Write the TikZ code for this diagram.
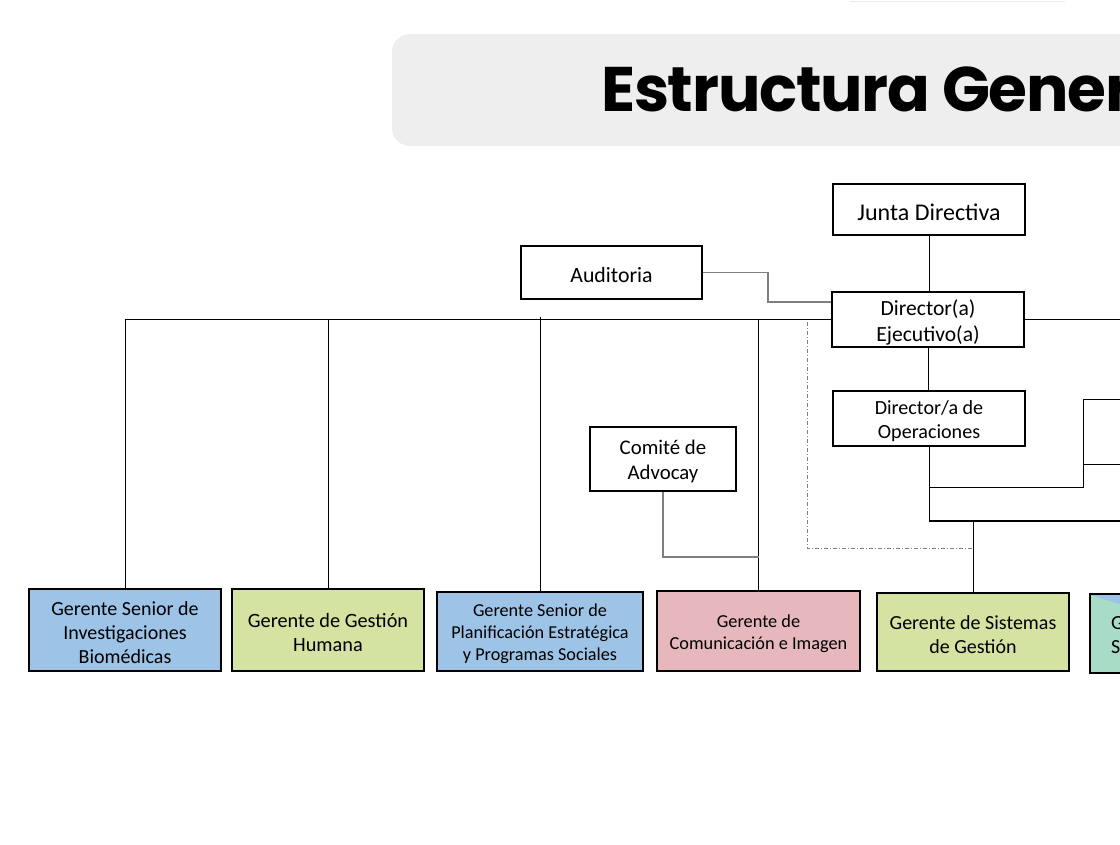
\documentclass[tikz,border=0pt]{standalone}
\usepackage{fontspec}
\setmainfont{Carlito}
\newfontfamily\titlefont{Poppins}[LetterSpace=-2]
\definecolor{titlegray}{HTML}{EEEEEE}
\definecolor{bblue}{HTML}{9DC3E6}
\definecolor{bgreen}{HTML}{D4E2A2}
\definecolor{bpink}{HTML}{E6B8BE}
\definecolor{bteal}{HTML}{A8DCC6}
\definecolor{cgray}{HTML}{7F7F7F}
\begin{document}
\begin{tikzpicture}[x=1pt,y=-1pt,
  box/.style={draw=black, line width=2pt, inner sep=0pt},
  txt/.style={align=center, inner sep=0pt, yshift=-2.5pt},
  conn/.style={line width=1pt, black},
  gconn/.style={line width=1.2pt, cgray}]
\useasboundingbox (0,0) rectangle (1120,845);
\clip (0,0) rectangle (1120,845);
% faint line at top
\draw[black!8, line width=1.2pt] (850,1.5) -- (1065,1.5);
% title banner
\fill[titlegray, rounded corners=18pt] (392,34) rectangle (1180,146);
\node[anchor=base west, inner sep=0pt, font=\titlefont\bfseries\fontsize{63}{80}\selectfont] (title) at (601,112) {Estructura General};
% upper boxes
\node[box, minimum width=192pt, minimum height=51pt] (junta) at (929,209.5) {};
\node[txt, font=\fontsize{24}{28}\selectfont] (junta-t) at (junta.center) {Junta Directiva};
\node[box, minimum width=181pt, minimum height=53pt] (aud) at (611.5,272.5) {};
\node[txt, font=\fontsize{21.8}{26}\selectfont] (aud-t) at (aud.center) {Auditoria};
\node[box, minimum width=192pt, minimum height=55pt] (dir) at (928,319.5) {};
\node[txt, font=\fontsize{21.6}{26}\selectfont] (dir-t) at (dir.center) {Director(a)\\Ejecutivo(a)};
\node[box, minimum width=192pt, minimum height=55pt] (ops) at (929,418.5) {};
\node[txt, font=\fontsize{20.1}{24}\selectfont] (ops-t) at (ops.center) {Director/a de\\Operaciones};
\node[box, minimum width=146pt, minimum height=64pt] (com) at (663,459) {};
\node[txt, font=\fontsize{20.8}{25}\selectfont] (com-t) at (com.center) {Comité de\\Advocay};
% bottom boxes
\node[box, fill=bblue, minimum width=192pt, minimum height=82pt] (b1) at (125,630) {};
\node[txt, font=\fontsize{20}{24}\selectfont] (b1-t) at (b1.center) {Gerente Senior de\\Investigaciones\\Biomédicas};
\node[box, fill=bgreen, minimum width=192pt, minimum height=82pt] (b2) at (328,630) {};
\node[txt, font=\fontsize{20.3}{24}\selectfont] (b2-t) at (b2.center) {Gerente de Gestión\\Humana};
\node[box, fill=bblue, minimum width=206pt, minimum height=79pt] (b3) at (540,631.5) {};
\node[txt, font=\fontsize{18.2}{22}\selectfont] (b3-t) at (b3.center) {Gerente Senior de\\Planificación Estratégica\\y Programas Sociales};
\node[box, fill=bpink, minimum width=203pt, minimum height=80pt] (b4) at (758.5,631) {};
\node[txt, font=\fontsize{18.3}{22}\selectfont] (b4-t) at (b4.center) {Gerente de\\Comunicación e Imagen};
\node[box, fill=bgreen, minimum width=192pt, minimum height=78pt] (b5) at (973,632) {};
\node[txt, font=\fontsize{20}{24}\selectfont] (b5-t) at (b5.center) {Gerente de Sistemas\\de Gestión};
\node[fill=bteal, draw=none, inner sep=0pt, minimum width=192pt, minimum height=79pt, anchor=west] (b6) at (1090,633.5) {};
\fill[bblue] (1091,595) -- (1125,595) -- (1125,606) -- cycle;
\draw[line width=2pt] (b6.south west) rectangle (b6.north east);
\node[anchor=west, align=left, inner sep=0pt, yshift=-2pt, font=\fontsize{20}{24}\selectfont] (b6-t) at (1111,633.5) {G\\S};
% connectors
\draw[conn] (junta.south) -- (junta.south |- dir.north);
\draw[gconn] (aud.east) -- (768,272.5) |- ([yshift=17.5pt]dir.west);
\draw[conn] (dir.west) -| (b1.north);
\draw[conn] (b2.north) -- (b2.north |- dir.west);
\draw[conn] (b3.north) -- ([yshift=2pt]b3.north |- dir.west);
\draw[conn] (b4.north) -- (b4.north |- dir.west);
\draw[gconn] (com.south) |- (b4.north |- 0,557);
\draw[gconn, line width=1pt, dash pattern=on 4pt off 2pt on 1pt off 2pt] (807,322) |- (b5.north |- 0,548);
\draw[conn] (dir.east) -- (1130,319.5);
\draw[conn] (dir.south) -- (dir.south |- ops.north);
\draw[conn] (ops.south) -- (929,521);
\draw[conn, line width=1.4pt] (929,521) -- (1130,521);
\draw[conn] (929,487) -- (1083,487) -- (1083,399) -- (1130,399);
\draw[conn] (1083,464) -- (1130,464);
\draw[conn] (b5.north |- 0,521) -- (b5.north);
\end{tikzpicture}
\end{document}
